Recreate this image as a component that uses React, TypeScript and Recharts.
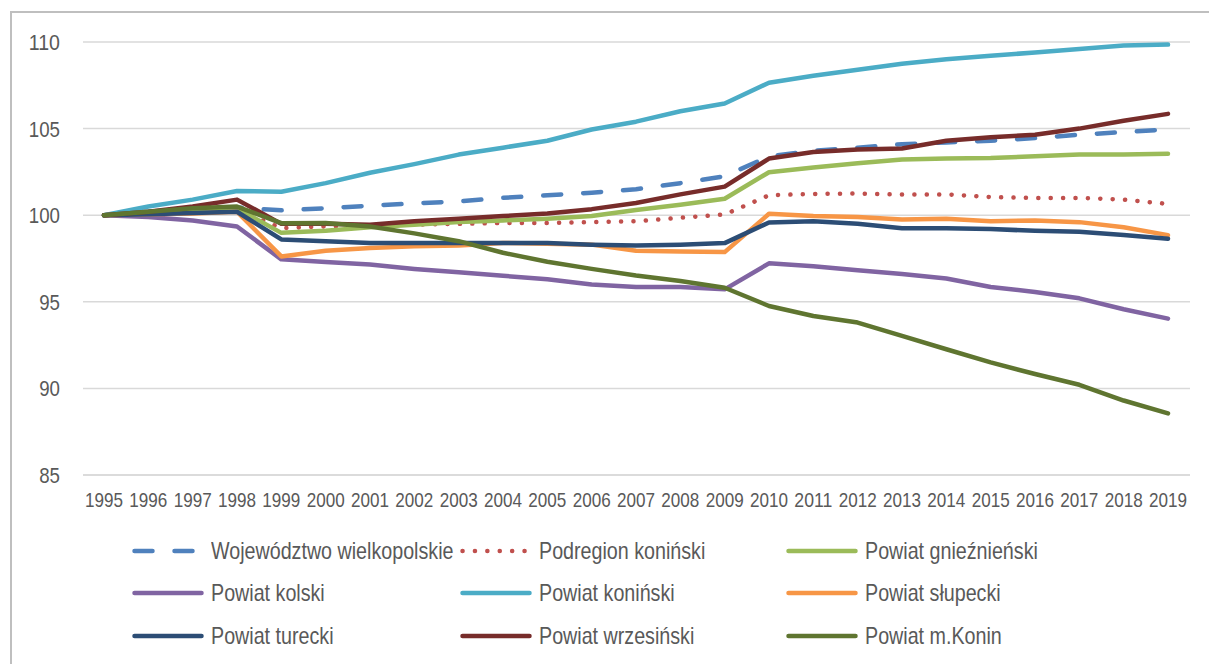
import React from 'react';
import { LineChart, Line, XAxis, YAxis, CartesianGrid } from 'recharts';

const years = ['1995','1996','1997','1998','1999','2000','2001','2002','2003','2004','2005','2006','2007','2008','2009','2010','2011','2012','2013','2014','2015','2016','2017','2018','2019'];

const wojewodztwo = [100, 100.2, 100.35, 100.45, 100.28, 100.4, 100.55, 100.68, 100.8, 101.0, 101.15, 101.3, 101.5, 101.85, 102.25, 103.4, 103.72, 103.9, 104.1, 104.2, 104.3, 104.45, 104.65, 104.8, 104.95];
const podregion = [100, 100.1, 100.2, 100.3, 99.25, 99.35, 99.38, 99.45, 99.5, 99.55, 99.55, 99.6, 99.65, 99.85, 100.04, 101.15, 101.23, 101.25, 101.2, 101.2, 101.05, 101.0, 101.0, 100.9, 100.65];
const gnieznienski = [100, 100.15, 100.3, 100.4, 98.98, 99.1, 99.3, 99.45, 99.6, 99.7, 99.8, 99.95, 100.3, 100.6, 100.95, 102.48, 102.76, 103.0, 103.22, 103.28, 103.3, 103.4, 103.5, 103.5, 103.55];
const kolski = [100, 99.9, 99.7, 99.35, 97.45, 97.3, 97.15, 96.9, 96.7, 96.5, 96.3, 96.0, 95.85, 95.85, 95.72, 97.22, 97.05, 96.82, 96.6, 96.35, 95.85, 95.57, 95.2, 94.57, 94.03];
const koninski = [100, 100.5, 100.9, 101.4, 101.35, 101.85, 102.45, 102.95, 103.5, 103.9, 104.3, 104.95, 105.4, 106.0, 106.45, 107.65, 108.05, 108.4, 108.75, 109.0, 109.2, 109.4, 109.6, 109.8, 109.85];
const slupecki = [100, 100.05, 100.1, 100.2, 97.62, 97.95, 98.1, 98.2, 98.25, 98.4, 98.35, 98.3, 97.95, 97.9, 97.87, 100.08, 99.95, 99.9, 99.75, 99.8, 99.65, 99.7, 99.6, 99.3, 98.85];
const turecki = [100, 100.05, 100.12, 100.2, 98.6, 98.5, 98.4, 98.4, 98.4, 98.4, 98.4, 98.3, 98.25, 98.3, 98.39, 99.58, 99.65, 99.5, 99.25, 99.25, 99.2, 99.1, 99.05, 98.85, 98.64];
const wrzesinski = [100, 100.2, 100.5, 100.9, 99.5, 99.5, 99.45, 99.65, 99.8, 99.95, 100.1, 100.35, 100.7, 101.2, 101.65, 103.27, 103.65, 103.8, 103.85, 104.3, 104.5, 104.65, 105.0, 105.45, 105.85];
const mKonin = [100, 100.2, 100.4, 100.5, 99.54, 99.55, 99.35, 98.95, 98.5, 97.83, 97.31, 96.9, 96.52, 96.2, 95.81, 94.76, 94.18, 93.8, 93.03, 92.26, 91.5, 90.83, 90.21, 89.3, 88.56];

const yTicks = [85, 90, 95, 100, 105, 110];

const seriesNames = ['Województwo wielkopolskie', 'Podregion koniński', 'Powiat gnieźnieński', 'Powiat kolski', 'Powiat koniński', 'Powiat słupecki', 'Powiat turecki', 'Powiat wrzesiński', 'Powiat m.Konin'];
const seriesValues = [wojewodztwo, podregion, gnieznienski, kolski, koninski, slupecki, turecki, wrzesinski, mKonin];
const seriesColors = ['#4F81BD', '#C0504D', '#9BBB59', '#8064A2', '#4BACC6', '#F79646', '#2C4D75', '#772C2A', '#5F7530'];
const seriesDash = ['18 22', '0.1 12.3', undefined, undefined, undefined, undefined, undefined, undefined, undefined];

const data = years.map((y, i) => {
  const row: Record<string, any> = { year: y };
  seriesNames.forEach((n, k) => { row[n] = seriesValues[k][i]; });
  return row;
});

const FONT = "'Liberation Sans', Arial, sans-serif";
const TEXT = '#595959';
const SW = 4.5;

const legendCols = [132, 460, 786];
const legendRows = [551, 593, 636];

const XTick = (props: any) => {
  const { x, y, payload } = props;
  const s = String(payload.value);
  return (
    <text x={x} y={y} dy="0.71em" textAnchor="middle" fill={TEXT} fontSize={21} fontFamily={FONT}
      textLength={s.length * 9.5} lengthAdjust="spacingAndGlyphs">{s}</text>
  );
};

const YTick = (props: any) => {
  const { x, y, payload } = props;
  const s = String(payload.value);
  return (
    <text x={x} y={y} dy="0.36em" textAnchor="end" fill={TEXT} fontSize={22} fontFamily={FONT}
      textLength={s.length * 10.4} lengthAdjust="spacingAndGlyphs">{s}</text>
  );
};

export default function App() {
  return (
    <div style={{ position: 'absolute', left: 0, top: 0, width: 1209, height: 664, overflow: 'hidden', background: '#fff' }}>
      <div style={{ position: 'absolute', left: 10, top: 11, width: 1400, height: 800, border: '2px solid #BFBFBF', boxSizing: 'border-box' }} />
      <div style={{ position: 'absolute', left: 0, top: 0 }}>
        <LineChart width={1209} height={664} data={data} margin={{ top: 42, right: 19, bottom: 159, left: 23 }}>
          <CartesianGrid vertical={false} stroke="#D9D9D9" strokeWidth={1.5} />
          <XAxis
            dataKey="year"
            height={30}
            padding={{ left: 21, right: 22 }}
            tickSize={0}
            tickMargin={17}
            axisLine={{ stroke: '#D9D9D9', strokeWidth: 1.5 }}
            interval={0}
            tick={<XTick />}
          />
          <YAxis
            width={60}
            domain={[85, 110]}
            ticks={yTicks}
            tickSize={0}
            tickMargin={23}
            axisLine={false}
            tick={<YTick />}
          />
          {seriesNames.map((n, k) => (
            <Line
              key={n}
              dataKey={n}
              stroke={seriesColors[k]}
              strokeWidth={SW}
              strokeDasharray={seriesDash[k]}
              strokeLinecap="round"
              strokeLinejoin="round"
              dot={false}
              activeDot={false}
              isAnimationActive={false}
            />
          ))}
        </LineChart>
      </div>
      {seriesNames.map((n, k) => {
        const cx = legendCols[k % 3];
        const cy = legendRows[Math.floor(k / 3)];
        return (
          <div key={n} style={{ position: 'absolute', left: cx, top: cy - 16, height: 32, display: 'flex', alignItems: 'center', whiteSpace: 'nowrap' }}>
            <svg width={72} height={32} style={{ display: 'block' }}>
              <line x1={2.5} y1={16} x2={69.5} y2={16} stroke={seriesColors[k]} strokeWidth={SW} strokeLinecap="round" strokeDasharray={seriesDash[k]} />
            </svg>
            <span style={{ marginLeft: 7, fontFamily: FONT, fontSize: 24, color: TEXT, lineHeight: '32px', display: 'inline-block', transform: 'scaleX(0.82)', transformOrigin: 'left center' }}>{n}</span>
          </div>
        );
      })}
    </div>
  );
}
